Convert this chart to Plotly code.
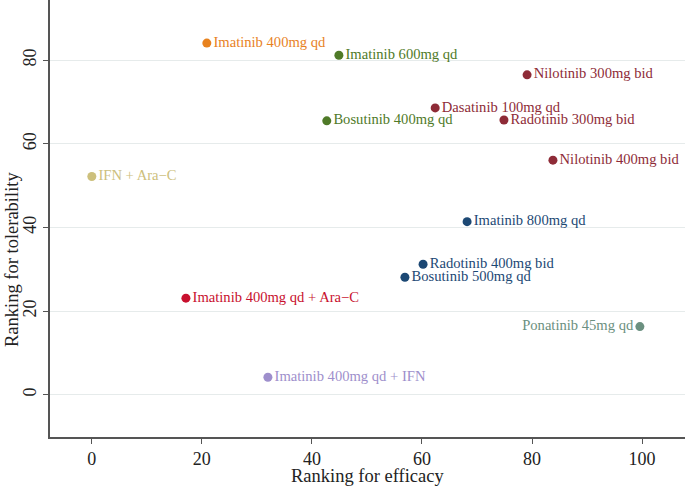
import plotly.graph_objects as go

labels = ["Imatinib 400mg qd", "Imatinib 600mg qd", "Nilotinib 300mg bid", "Dasatinib 100mg qd",
          "Radotinib 300mg bid", "Bosutinib 400mg qd", "Nilotinib 400mg bid", "IFN + Ara\u2212C",
          "Imatinib 800mg qd", "Radotinib 400mg bid", "Bosutinib 500mg qd",
          "Imatinib 400mg qd + Ara\u2212C", "Ponatinib 45mg qd", "Imatinib 400mg qd + IFN"]
efficacy = [20.9, 44.9, 79.1, 62.4, 74.9, 42.7, 83.8, 0.0, 68.2, 60.2, 56.9, 17.1, 99.6, 32.0]
tolerability = [84.1, 81.2, 76.5, 68.6, 65.7, 65.5, 56.1, 52.2, 41.4, 31.2, 28.1, 23.1, 16.3, 4.2]
colors = ["#E8821E", "#4F7A28", "#8E2B37", "#8E2B37", "#8E2B37", "#4F7A28", "#8E2B37", "#CDC07C",
          "#1C4874", "#1C4874", "#1C4874", "#C8102E", "#6B9080", "#9E8FCC"]
positions = ["middle right"] * 12 + ["middle left", "middle right"]
xticks = [0, 20, 40, 60, 80, 100]
yticks = [0, 20, 40, 60, 80]

fig = go.Figure(go.Scatter(
    x=efficacy, y=tolerability, mode="markers+text", text=labels,
    textposition=positions,
    marker=dict(color=colors, size=9, line=dict(width=0)),
    textfont=dict(color=colors, size=14.6, family="Liberation Serif"),
    cliponaxis=False, showlegend=False, hoverinfo="skip",
))

axis_common = dict(showline=True, linecolor="#555555", linewidth=1.5, ticks="outside",
                   ticklen=5, tickcolor="#555555", zeroline=False, automargin=False,
                   tickfont=dict(size=18, family="Liberation Serif", color="#222222"))

fig.update_xaxes(range=[-7.6, 107.8], tickvals=xticks, showgrid=False, **axis_common)
fig.update_yaxes(range=[-10.1, 94.4], tickvals=yticks, showgrid=True, gridcolor="#E6EBEB",
                 gridwidth=1, tickangle=-90, **axis_common)

title_font = dict(size=18.5, family="Liberation Serif", color="#222222")
fig.add_annotation(text="Ranking for efficacy", xref="paper", yref="paper",
                   x=0.5, y=0, yshift=-39, xanchor="center", yanchor="middle",
                   showarrow=False, font=title_font)
fig.add_annotation(text="Ranking for tolerability", xref="paper", yref="paper",
                   x=0, xshift=-38, y=(437 - 260) / 437, textangle=-90,
                   xanchor="center", yanchor="middle", showarrow=False, font=title_font)

fig.update_layout(width=685, height=486, margin=dict(l=50, r=0, t=0, b=49),
                  plot_bgcolor="white", paper_bgcolor="white", hovermode=False,
                  font=dict(family="Liberation Serif"))

fig.write_html("out.html", config={"displayModeBar": False},
               post_script="document.body.style.margin='0';document.body.style.overflow='hidden';")
